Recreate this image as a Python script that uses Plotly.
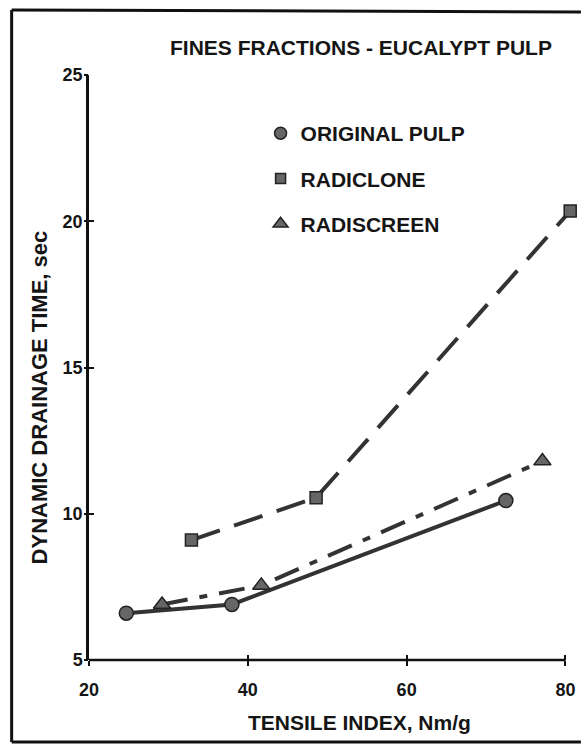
import plotly.graph_objects as go

# ---- data ----
orig_x = [24.7, 38.0, 72.5]
orig_y = [6.6, 6.9, 10.45]
clone_x = [32.9, 48.6, 80.6]
clone_y = [9.1, 10.55, 20.35]
screen_x = [29.2, 41.7, 77.1]
screen_y = [6.9, 7.55, 11.8]
names = ["ORIGINAL PULP", "RADICLONE", "RADISCREEN"]
x_ticks = [20, 40, 60, 80]
y_ticks = [5, 10, 15, 20, 25]
x_axis_end = 80
x_range = [20, 80.7]
y_range = [5, 25]

FONT = "Liberation Sans, Arial, sans-serif"
TXT = "#151515"
LINE_C = "#333333"
FILL_C = "#666666"

fig = go.Figure()

series = [
    (orig_x, orig_y, "solid", "circle", 14),
    (clone_x, clone_y, "30px,15px", "square", 12),
    (screen_x, screen_y, "26px,12px,8px,12px", "triangle-up", 15),
]
for (xs, ys, dash, sym, sz), nm in zip(series, names):
    fig.add_trace(go.Scatter(
        x=xs, y=ys, mode="lines+markers", showlegend=False, cliponaxis=False,
        line=dict(color=LINE_C, width=4, dash=dash),
        marker=dict(symbol=sym, size=sz, color=FILL_C, line=dict(color="#222222", width=1.5)),
    ))
    fig.add_trace(go.Scatter(
        x=[None], y=[None], mode="markers", name=nm, legendgroup=nm, showlegend=True,
        marker=dict(symbol=sym, size=sz - 2, color=FILL_C, line=dict(color="#222222", width=1.5)),
    ))

# paper <-> pixel helpers (plot area: x 89..575, y 75..660)
L, R, T, B = 89, 10, 75, 87
W = 585 - L - R
H = 747 - T - B

def px(x):
    return (x - L) / float(W)

def py(y):
    return (747 - B - y) / float(H)

axis_common = dict(showgrid=False, zeroline=False, linecolor="#111111",
                   linewidth=2.5, tickcolor="#111111", tickwidth=2,
                   tickfont=dict(family=FONT, size=18, color=TXT, weight="bold"))

fig.update_layout(
    width=585, height=747,
    margin=dict(l=L, r=R, t=T, b=B),
    paper_bgcolor="white", plot_bgcolor="white",
    font=dict(family=FONT, color=TXT),
    xaxis=dict(range=x_range, tickvals=x_ticks, ticks="outside", ticklen=5, showline=False,
               ticklabelstandoff=8, **axis_common),
    yaxis=dict(range=y_range, tickvals=y_ticks, ticks="inside", ticklen=5, showline=True,
               **axis_common),
    xaxis2=dict(range=x_range, tickvals=x_ticks, ticks="inside", ticklen=5, overlaying="x",
                anchor="y", showticklabels=False, showgrid=False, zeroline=False,
                showline=False, tickcolor="#111111", tickwidth=2),
    yaxis2=dict(range=y_range, tickvals=y_ticks, ticks="outside", ticklen=4, overlaying="y",
                anchor="x", showticklabels=False, showgrid=False, zeroline=False,
                showline=False, tickcolor="#111111", tickwidth=2),
    legend=dict(x=px(262), y=py(113), xanchor="left", yanchor="top",
                font=dict(family=FONT, size=21, color=TXT, weight="bold"),
                tracegroupgap=15, bgcolor="rgba(0,0,0,0)"),
    annotations=[
        dict(text="FINES FRACTIONS - EUCALYPT PULP", xref="paper", yref="paper",
             x=px(363), y=py(48), xanchor="center", yanchor="middle", showarrow=False,
             font=dict(family=FONT, size=21, color=TXT, weight="bold")),
        dict(text="TENSILE INDEX, Nm/g", xref="paper", yref="paper",
             x=px(362), y=py(722), xanchor="center", yanchor="middle", showarrow=False,
             font=dict(family=FONT, size=21, color=TXT, weight="bold")),
        dict(text="DYNAMIC DRAINAGE TIME, sec", xref="paper", yref="paper",
             x=px(39), y=py(397), xanchor="center", yanchor="middle", showarrow=False,
             textangle=-90, font=dict(family=FONT, size=22, color=TXT, weight="bold")),
    ],
    shapes=[
        # x axis line ending at 80
        dict(type="line", xref="x", yref="paper", x0=x_range[0], x1=x_axis_end, y0=0, y1=0,
             line=dict(color="#111111", width=2.5)),
        # outer frame
        dict(type="line", xref="paper", yref="paper", x0=px(11), x1=px(585), y0=py(10), y1=py(12),
             line=dict(color="#111111", width=3)),
        dict(type="line", xref="paper", yref="paper", x0=px(11), x1=px(11), y0=py(10), y1=py(742),
             line=dict(color="#111111", width=3)),
        dict(type="line", xref="paper", yref="paper", x0=px(11), x1=px(585), y0=py(742), y1=py(742),
             line=dict(color="#111111", width=3)),
    ],
)

# dummy invisible trace so the overlay axes are drawn
fig.add_trace(go.Scatter(x=[None], y=[None], xaxis="x2", yaxis="y2", showlegend=False,
                         hoverinfo="skip"))

fig.write_html("out.html")
